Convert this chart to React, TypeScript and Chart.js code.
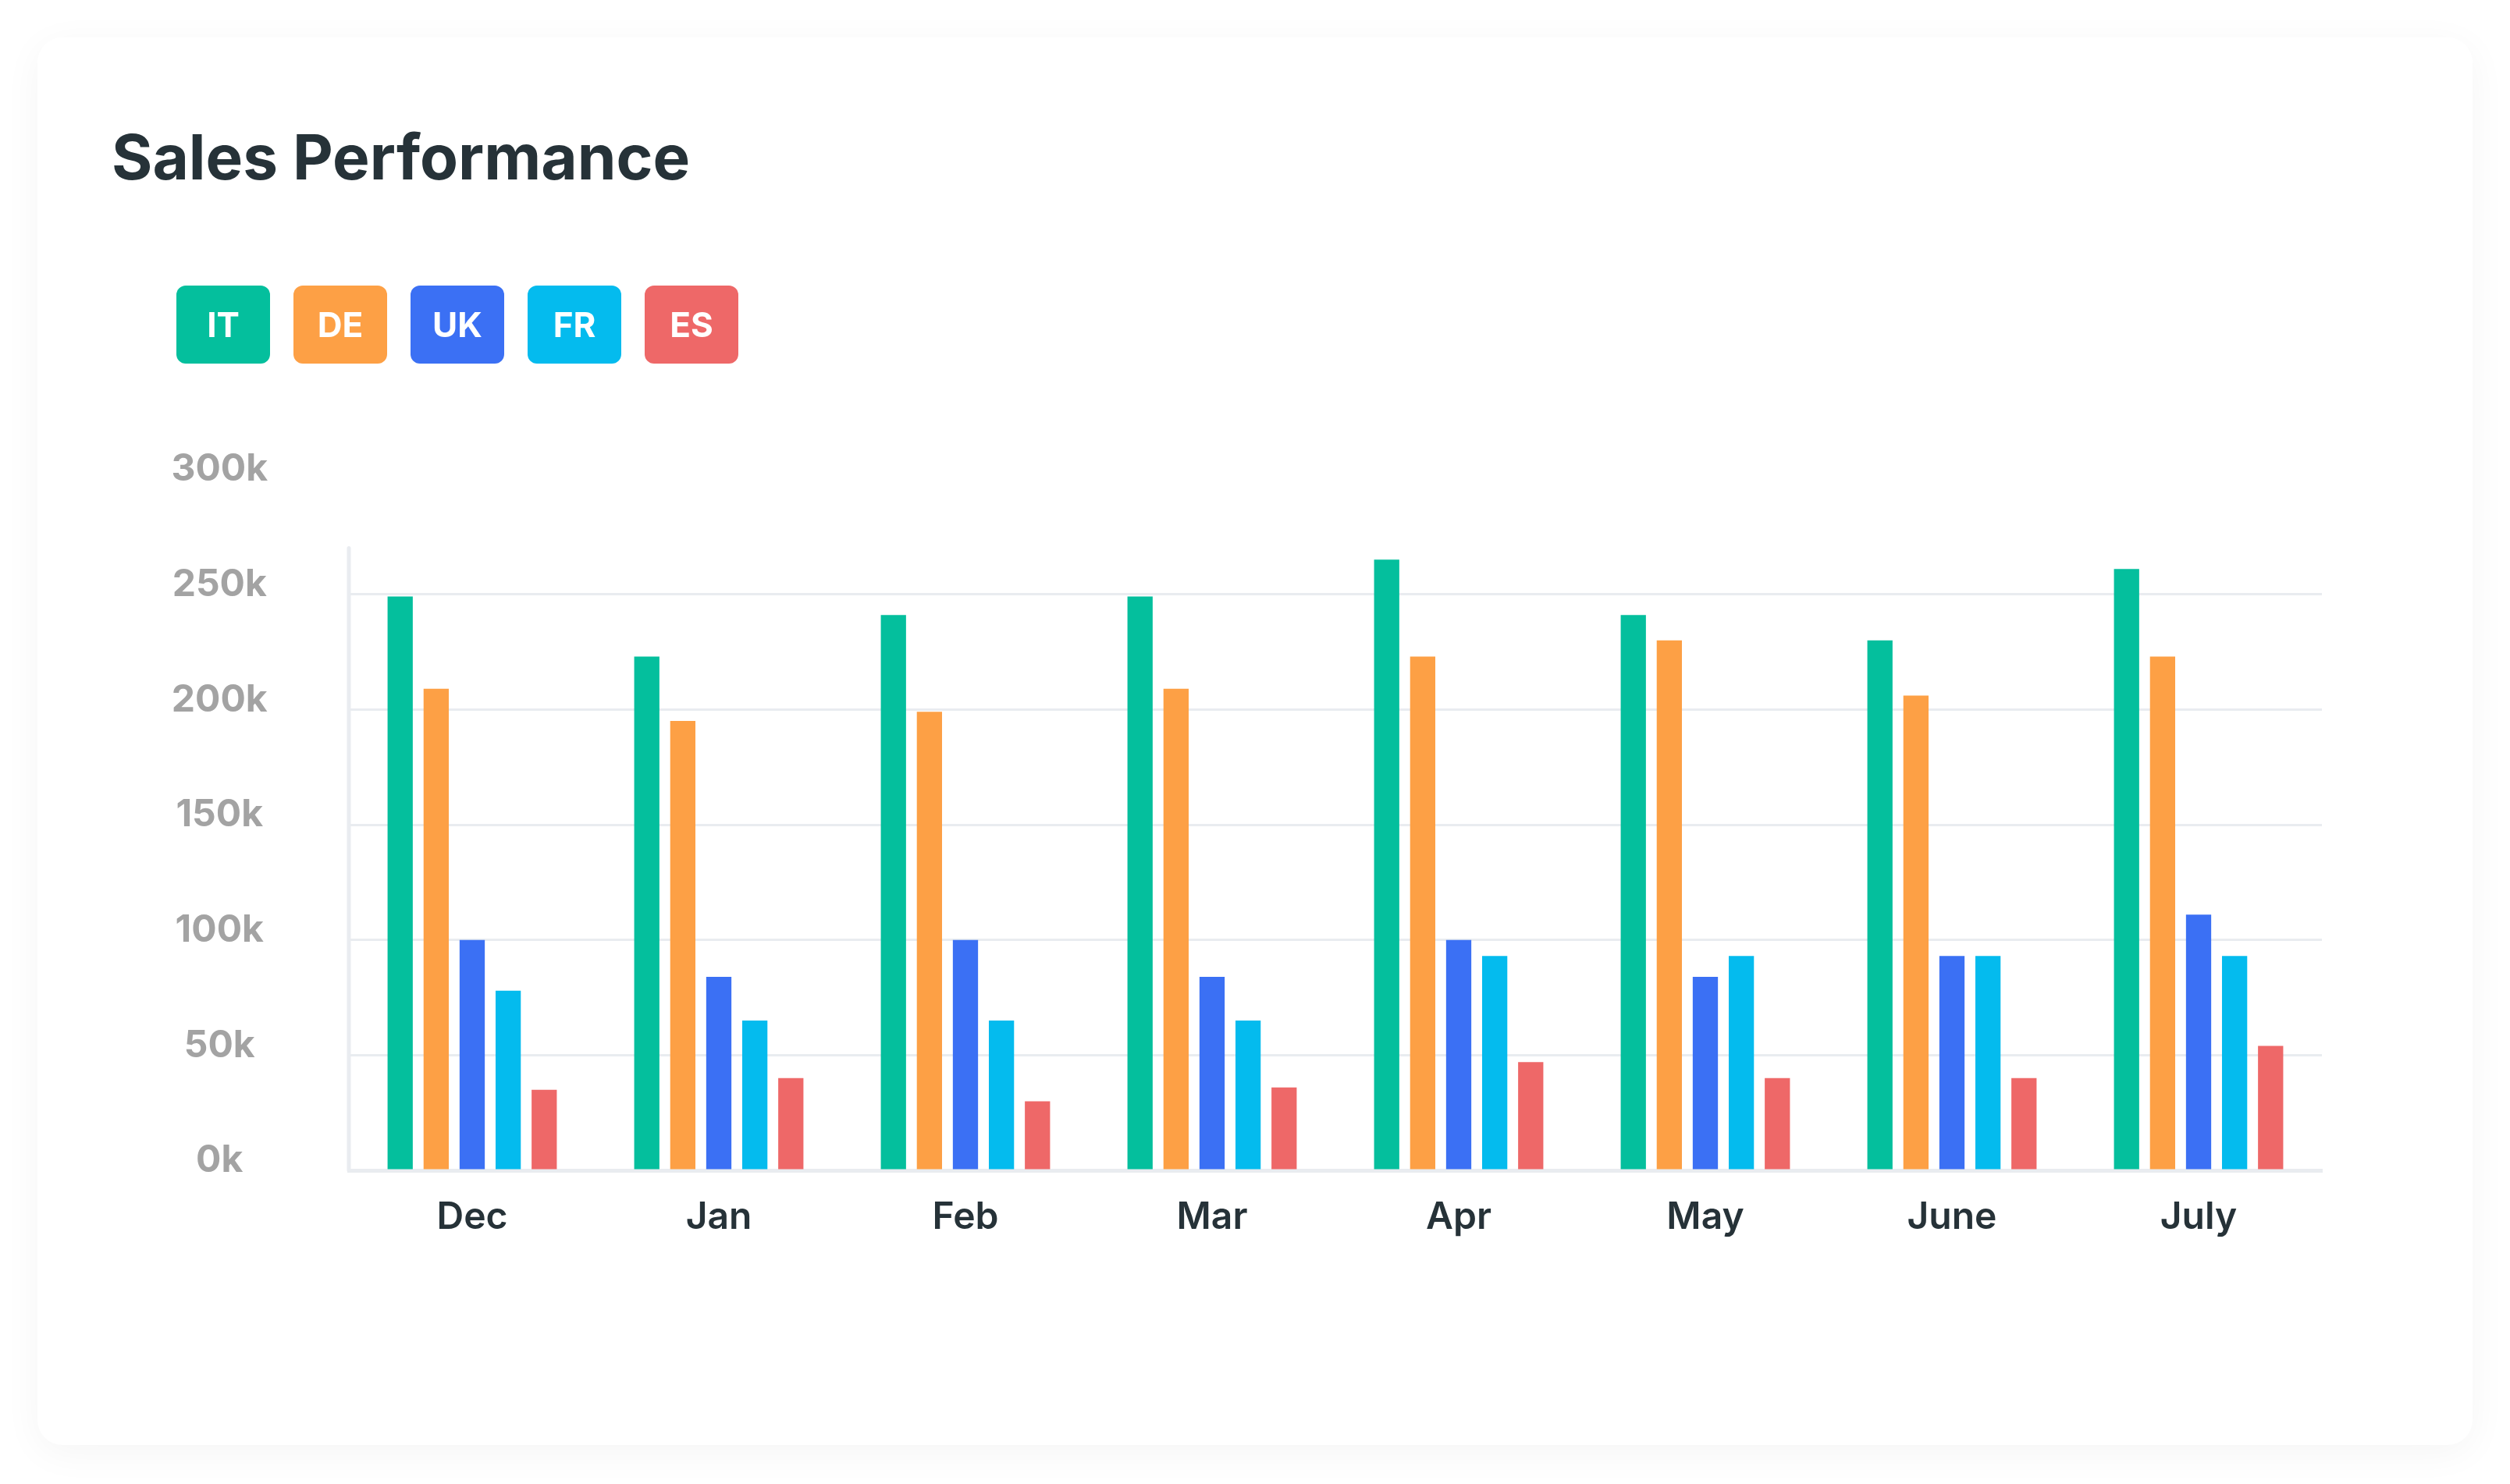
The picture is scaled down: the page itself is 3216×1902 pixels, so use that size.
import React, { useEffect, useRef } from 'react';
import { Chart, registerables } from 'chart.js';

Chart.register(...registerables);

// ---- data ----
const CATEGORIES = ['Dec', 'Jan', 'Feb', 'Mar', 'Apr', 'May', 'June', 'July'];
const SERIES_NAMES = ['IT', 'DE', 'UK', 'FR', 'ES'];
const IT_VALUES = [249000, 223000, 241000, 249000, 265000, 241000, 230000, 261000];
const DE_VALUES = [209000, 195000, 199000, 209000, 223000, 230000, 206000, 223000];
const UK_VALUES = [100000, 84000, 100000, 84000, 100000, 84000, 93000, 111000];
const FR_VALUES = [78000, 65000, 65000, 65000, 93000, 93000, 93000, 93000];
const ES_VALUES = [35000, 40000, 30000, 36000, 47000, 40000, 40000, 54000];
const Y_MIN = 0;
const Y_MAX = 300000;
const Y_STEP = 50000;
const AXIS_TOP_VALUE = 270000;

// ---- style ----
const SERIES_COLORS = ['#04BF9D', '#FDA045', '#3B70F4', '#04BBEE', '#EE6868'];
const GRID_COLOR = '#E9ECF0';
const TITLE_COLOR = '#263238';
const Y_LABEL_COLOR = '#A3A3A3';
const FONT = 'Inter, "Noto Sans", sans-serif';

const SERIES_VALUES = [IT_VALUES, DE_VALUES, UK_VALUES, FR_VALUES, ES_VALUES];

const axisLinePlugin = {
  id: 'axisLine',
  beforeDatasetsDraw(chart: any) {
    const { ctx, chartArea, scales } = chart;
    const y = scales.y;
    ctx.save();
    ctx.strokeStyle = GRID_COLOR;
    ctx.lineWidth = 5;
    ctx.lineCap = 'round';
    ctx.beginPath();
    ctx.moveTo(chartArea.left, y.getPixelForValue(AXIS_TOP_VALUE));
    ctx.lineTo(chartArea.left, y.getPixelForValue(Y_MIN));
    ctx.stroke();
    ctx.restore();
  },
};

export default function App() {
  const canvasRef = useRef<HTMLCanvasElement | null>(null);

  useEffect(() => {
    document.body.style.margin = '0';
    document.body.style.background = '#ffffff';
    const canvas = canvasRef.current;
    if (!canvas) return;
    const chart = new Chart(canvas, {
      type: 'bar',
      data: {
        labels: CATEGORIES,
        datasets: SERIES_NAMES.map((name, i) => ({
          label: name,
          data: SERIES_VALUES[i],
          backgroundColor: SERIES_COLORS[i],
          borderWidth: 0,
          barPercentage: 0.7,
          categoryPercentage: 0.73,
        })),
      },
      options: {
        animation: false,
        responsive: true,
        maintainAspectRatio: false,
        layout: { padding: { left: 0, top: 614, right: 241, bottom: 202 } },
        plugins: {
          legend: { display: false },
          title: { display: false },
          tooltip: { enabled: false },
        },
        scales: {
          x: {
            grid: { display: false, drawTicks: false },
            border: { display: true, color: GRID_COLOR, width: 5 },
            ticks: {
              padding: 32,
              color: TITLE_COLOR,
              font: { family: FONT, size: 48, weight: '600' },
            },
            afterFit: (scale: any) => {
              scale.height = 200;
            },
          },
          y: {
            min: Y_MIN,
            max: Y_MAX,
            ticks: {
              stepSize: Y_STEP,
              padding: 104,
              crossAlign: 'center',
              labelOffset: -12,
              color: Y_LABEL_COLOR,
              font: { family: FONT, size: 48, weight: '700' },
              callback: (v: any) => `${Number(v) / 1000}k`,
            },
            grid: {
              drawTicks: false,
              lineWidth: 3,
              color: (ctx: any) =>
                ctx.tick && ctx.tick.value > AXIS_TOP_VALUE ? 'rgba(0,0,0,0)' : GRID_COLOR,
            },
            border: { display: false },
            afterFit: (scale: any) => {
              scale.width = 447;
            },
          },
        },
      },
      plugins: [axisLinePlugin],
    });
    return () => chart.destroy();
  }, []);

  return (
    <div style={{ position: 'relative', width: 3216, height: 1902, overflow: 'hidden', background: '#ffffff' }}>
      <div
        style={{
          position: 'absolute',
          left: 48,
          top: 48,
          width: 3120,
          height: 1804,
          borderRadius: 32,
          background: '#ffffff',
          boxShadow: '0 10px 50px rgba(0,0,0,0.045)',
        }}
      />
      <div style={{ position: 'absolute', left: 0, top: 0, width: 3216, height: 1902 }}>
        <canvas ref={canvasRef} />
      </div>
      <div
        style={{
          position: 'absolute',
          left: 143,
          top: 161,
          fontFamily: FONT,
          fontWeight: 700,
          fontSize: 80,
          lineHeight: 1,
          color: TITLE_COLOR,
          whiteSpace: 'nowrap',
        }}
      >
        Sales Performance
      </div>
      <div style={{ position: 'absolute', left: 226, top: 366, display: 'flex', gap: 30 }}>
        {SERIES_NAMES.map((name, i) => (
          <div
            key={name}
            style={{
              width: 120,
              height: 100,
              borderRadius: 12,
              background: SERIES_COLORS[i],
              color: '#ffffff',
              fontFamily: FONT,
              fontWeight: 700,
              fontSize: 44,
              display: 'flex',
              alignItems: 'center',
              justifyContent: 'center',
            }}
          >
            {name}
          </div>
        ))}
      </div>
    </div>
  );
}
